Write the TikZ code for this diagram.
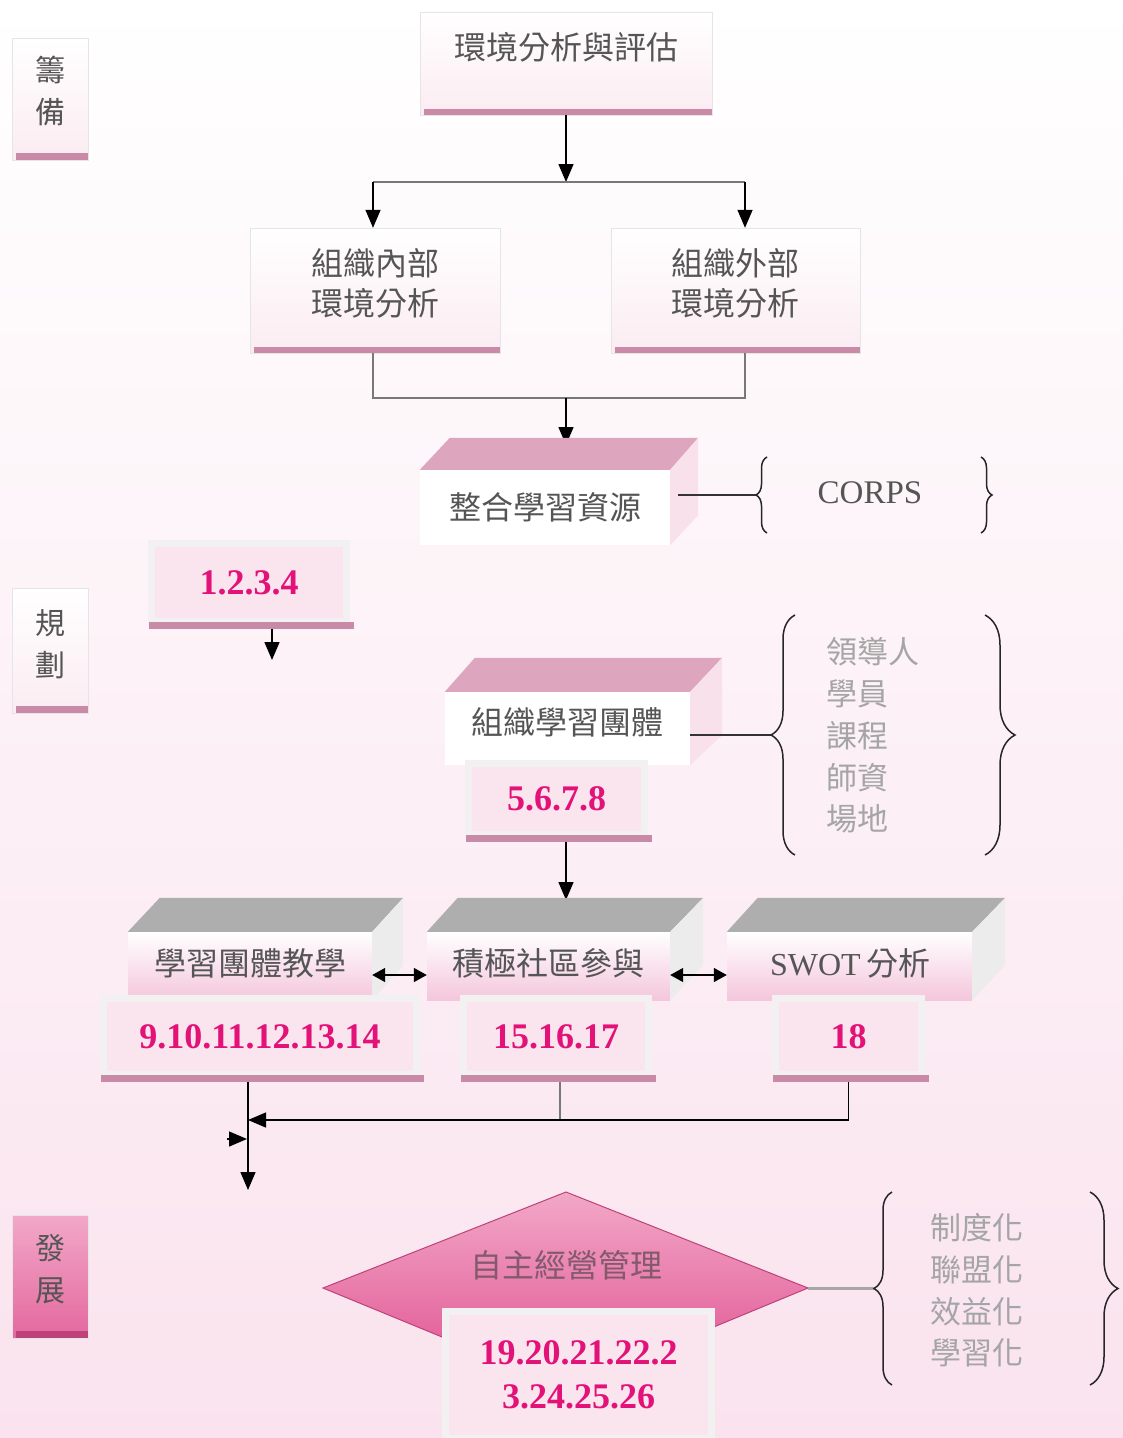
\documentclass[tikz,border=0pt]{standalone}
\usepackage{fontspec}
\setmainfont{Liberation Serif}
\newfontfamily\cjk{Noto Sans CJK TC}
\usetikzlibrary{arrows.meta,calc,decorations.pathreplacing}

\definecolor{bgpink}{RGB}{250,227,238}
\definecolor{bgmid}{RGB}{253,245,249}
\definecolor{cardpink}{RGB}{251,236,242}
\definecolor{edgepink}{RGB}{201,138,167}
\definecolor{toppink}{RGB}{221,166,190}
\definecolor{sidepink}{RGB}{249,225,236}
\definecolor{topgray}{RGB}{174,174,174}
\definecolor{sidegray}{RGB}{236,236,236}
\definecolor{frontpink}{RGB}{244,198,220}
\definecolor{numpink}{RGB}{250,229,238}
\definecolor{framegray}{RGB}{242,240,241}
\definecolor{numred}{RGB}{226,18,120}
\definecolor{deeppink}{RGB}{223,78,142}
\definecolor{lightrose}{RGB}{242,168,200}
\definecolor{txtgray}{RGB}{85,85,85}
\definecolor{listgray}{RGB}{165,165,165}
\definecolor{linegray}{RGB}{120,120,120}
\definecolor{selfgray}{RGB}{130,90,108}

\tikzset{
  card/.style={draw=gray!20, top color=white, bottom color=cardpink, inner sep=0pt},
  devcard/.style={draw=gray!20, top color=lightrose, bottom color=deeppink!85!white, inner sep=0pt},
  numbox/.style={draw=framegray, line width=7pt, fill=numpink, inner sep=0pt, text=numred,
    font=\fontsize{36}{44}\selectfont\bfseries, align=center},
  frontface/.style={top color=white, bottom color=frontpink, inner sep=0pt},
  whiteface/.style={fill=white, inner sep=0pt},
  lbl/.style={text=txtgray, font=\cjk\fontsize{32}{40}\selectfont, align=center, inner sep=0pt},
  stagelbl/.style={text=txtgray, font=\cjk\fontsize{30}{42}\selectfont, align=center, inner sep=0pt},
  listlbl/.style={text=listgray, font=\cjk\fontsize{31}{41.7}\selectfont, align=left, inner sep=0pt},
  conn/.style={draw=linegray, line width=1.4pt},
  headarrow/.style={-{Triangle[length=18pt,width=15pt]}, black},
  dblarrow/.style={{Triangle[length=13pt,width=14pt]}-{Triangle[length=13pt,width=14pt]}},
  bracer/.style={decorate, decoration={brace, amplitude=#1}, line width=1.5pt, draw=black!85},
  stripe/.style={fill=edgepink},
}

\begin{document}
\begin{tikzpicture}[x=1pt,y=1pt,yscale=-1,xscale=1]
% background
\shade[top color=white, middle color=bgmid, bottom color=bgpink] (0,0) rectangle (1123,1438);
\useasboundingbox (0,0) rectangle (1123,1438);

% stage cards
\node[card, minimum width=76pt, minimum height=122pt] (prep) at (50,99) {};
\fill[stripe] ($(prep.south west)+(4,0)$) rectangle ($(prep.south east)+(0,-7)$);
\node[stagelbl] (preptext) at (50,91) {籌\\備};

\node[card, minimum width=76pt, minimum height=125pt] (plan) at (50,650.5) {};
\fill[stripe] ($(plan.south west)+(4,0)$) rectangle ($(plan.south east)+(0,-7)$);
\node[stagelbl] (plantext) at (50,644) {規\\劃};

\node[devcard, minimum width=76pt, minimum height=123pt] (dev) at (50,1276.5) {};
\fill[deeppink!85!black] ($(dev.south west)+(4,0)$) rectangle ($(dev.south east)+(0,-7)$);
\node[stagelbl] (devtext) at (50,1269) {發\\展};

% environment analysis
\node[card, minimum width=292pt, minimum height=103pt] (env) at (566,63.5) {};
\fill[stripe] ($(env.south west)+(4,0)$) rectangle ($(env.south east)+(0,-6)$);
\node[lbl] (envtext) at (566,47) {環境分析與評估};

\node[card, minimum width=250pt, minimum height=125pt] (inner) at (375,290.5) {};
\fill[stripe] ($(inner.south west)+(4,0)$) rectangle ($(inner.south east)+(0,-6)$);
\node[lbl] (innertext) at (375,283) {組織內部\\環境分析};

\node[card, minimum width=249pt, minimum height=125pt] (outer) at (735.5,290.5) {};
\fill[stripe] ($(outer.south west)+(4,0)$) rectangle ($(outer.south east)+(0,-6)$);
\node[lbl] (outertext) at (735.5,283) {組織外部\\環境分析};

\coordinate (split) at (566,182);
\coordinate (join) at (566,398);
\coordinate (integtop) at (566,445);
\draw[conn, headarrow] (env.south) -- (split);
\draw[conn] ($(inner.north |- split)+(-2,0)$) -- ($(outer.north |- split)+(9.5,0)$);
\draw[conn, headarrow] ($(inner.north |- split)+(-2,0)$) -- ($(inner.north)+(-2,0)$);
\draw[conn, headarrow] ($(outer.north |- split)+(9.5,0)$) -- ($(outer.north)+(9.5,0)$);
\draw[conn] ($(inner.south)+(-2,0)$) -- ($(inner.south |- join)+(-2,0)$) -- ($(outer.south |- join)+(9.5,0)$) -- ($(outer.south)+(9.5,0)$);
\draw[conn, headarrow] (join) -- (integtop);

% integrate resources
\node[whiteface, lbl, minimum width=250pt, minimum height=75pt] (integ) at (545,507.5) {整合學習資源};
\fill[toppink] (integ.north west) -- ($(integ.north west)+(30,-32)$) -- ($(integ.north east)+(28,-32)$) -- (integ.north east) -- cycle;
\fill[sidepink] (integ.north east) -- ($(integ.north east)+(28,-32)$) -- ($(integ.south east)+(28,-30)$) -- (integ.south east) -- cycle;
\coordinate (corpsbr) at (756,495);
\draw[conn, black!80] ($(integ.east)+(8,-12.5)$) -- (corpsbr);
\draw[bracer=11pt] (767,533) -- (767,457);
\node[text=txtgray, font=\fontsize{33}{36}\selectfont, inner sep=0pt] (corps) at (870,493) {CORPS};
\draw[bracer=11pt] (981,457) -- (981,533);

% planning
\node[numbox, minimum width=195pt, minimum height=78pt] (numone) at (249,582.5) {1.2.3.4};
\fill[stripe] ($(numone.south west)+(1,3.5)$) rectangle ($(numone.south east)+(3.5,-3)$);
\coordinate (numonetip) at (272,660);
\draw[conn, headarrow] ($(numone.south)+(23,3.5)$) -- (numonetip);

\node[whiteface, lbl, minimum width=245pt, minimum height=73pt] (group) at (567.5,728.5) {};
\fill[toppink] (group.north west) -- ($(group.north west)+(30,-34)$) -- ($(group.north east)+(32,-34)$) -- (group.north east) -- cycle;
\fill[sidepink] (group.north east) -- ($(group.north east)+(32,-34)$) -- ($(group.south east)+(32,-30)$) -- (group.south east) -- cycle;
\node[lbl] (grouptext) at (567,722) {組織學習團體};
\coordinate (groupbr) at (771,735);
\draw[conn, black!80] ($(group.east)+(0,6.5)$) -- (groupbr);
\draw[bracer=24pt] (795,855) -- (795,615);
\node[listlbl, anchor=west] (grouplist) at (826,735.5) {領導人\\學員\\課程\\師資\\場地};
\draw[bracer=30pt] (985,615) -- (985,855);

\node[numbox, minimum width=176pt, minimum height=71pt] (numtwo) at (556.5,799) {5.6.7.8};
\fill[stripe] ($(numtwo.south west)+(1,3.5)$) rectangle ($(numtwo.south east)+(3.5,-3)$);
\coordinate (commtop) at (566,900);
\draw[conn, headarrow] ($(numtwo.south)+(9.5,3.5)$) -- (commtop);

% three activities
\node[frontface, lbl, minimum width=244pt, minimum height=68pt] (teach) at (250,966) {};
\fill[topgray] (teach.north west) -- ($(teach.north west)+(32,-34)$) -- ($(teach.north east)+(31,-34)$) -- (teach.north east) -- cycle;
\fill[sidegray] (teach.north east) -- ($(teach.north east)+(31,-34)$) -- ($(teach.south east)+(31,-35)$) -- (teach.south east) -- cycle;
\node[lbl] (teachtext) at (250,963) {學習團體教學};

\node[frontface, lbl, minimum width=243pt, minimum height=68pt] (comm) at (548.5,966) {};
\fill[topgray] (comm.north west) -- ($(comm.north west)+(31,-34)$) -- ($(comm.north east)+(33,-34)$) -- (comm.north east) -- cycle;
\fill[sidegray] (comm.north east) -- ($(comm.north east)+(33,-34)$) -- ($(comm.south east)+(33,-35)$) -- (comm.south east) -- cycle;
\node[lbl] (commtext) at (548,963) {積極社區參與};

\node[frontface, lbl, minimum width=245pt, minimum height=68pt] (swot) at (849.5,966) {};
\fill[topgray] (swot.north west) -- ($(swot.north west)+(31,-34)$) -- ($(swot.north east)+(33,-34)$) -- (swot.north east) -- cycle;
\fill[sidegray] (swot.north east) -- ($(swot.north east)+(33,-34)$) -- ($(swot.south east)+(33,-35)$) -- (swot.south east) -- cycle;
\node[lbl] (swottext) at (850,963) {\fontspec{Liberation Serif}SWOT\,\cjk 分析};

\draw[conn, black, dblarrow] ($(teach.east)+(0,9)$) -- ($(comm.west)+(0,9)$);
\draw[conn, black, dblarrow] ($(comm.east)+(0,9)$) -- ($(swot.west)+(0,9)$);

\node[numbox, minimum width=313pt, minimum height=76pt] (numthree) at (260,1036.5) {9.10.11.12.13.14};
\fill[stripe] ($(numthree.south west)+(1,3.5)$) rectangle ($(numthree.south east)+(3.5,-3)$);
\node[numbox, minimum width=185pt, minimum height=76pt] (numfour) at (556,1036.5) {15.16.17};
\fill[stripe] ($(numfour.south west)+(1,3.5)$) rectangle ($(numfour.south east)+(3.5,-3)$);
\node[numbox, minimum width=146pt, minimum height=76pt] (numfive) at (848.5,1036.5) {18};
\fill[stripe] ($(numfive.south west)+(1,3.5)$) rectangle ($(numfive.south east)+(3.5,-3)$);

\coordinate (merge) at (248,1120);
\coordinate (devtop) at (248,1190);
\coordinate (stubtail) at (227,1139);
\coordinate (stubhead) at (247,1139);
\draw[conn, headarrow] ($(numthree.south)+(-12,3.5)$) -- (devtop);
\draw[conn] ($(numfour.south)+(4,3.5)$) -- ($(numfour.south |- merge)+(4,0)$);
\draw[conn, headarrow] ($(numfive.south)+(0,3.5)$) -- (numfive.south |- merge) -- (merge);
\draw[conn, headarrow] (stubtail) -- (stubhead);

% self management
\shadedraw[top color=lightrose, middle color=deeppink!92!lightrose, bottom color=deeppink, draw=deeppink!85!black, line width=1pt]
  (566,1192) -- (808,1288) -- (566,1388) -- (323,1288) -- cycle;
\coordinate (dright) at (808,1288);
\node[lbl, text=selfgray] (selftext) at (566,1265) {自主經營管理};
\coordinate (selfbr) at (874,1288);
\draw[conn, gray!70, line width=3pt] (dright) -- (selfbr);
\draw[bracer=18pt] (892,1385) -- (892,1192);
\node[listlbl, anchor=west] (selflist) at (930,1290.5) {制度化\\聯盟化\\效益化\\學習化};
\draw[bracer=28pt] (1090,1192) -- (1090,1385);

\node[numbox, minimum width=266pt, minimum height=127pt] (numsix) at (578.5,1375) {19.20.21.22.2\\3.24.25.26};

\end{tikzpicture}
\end{document}
